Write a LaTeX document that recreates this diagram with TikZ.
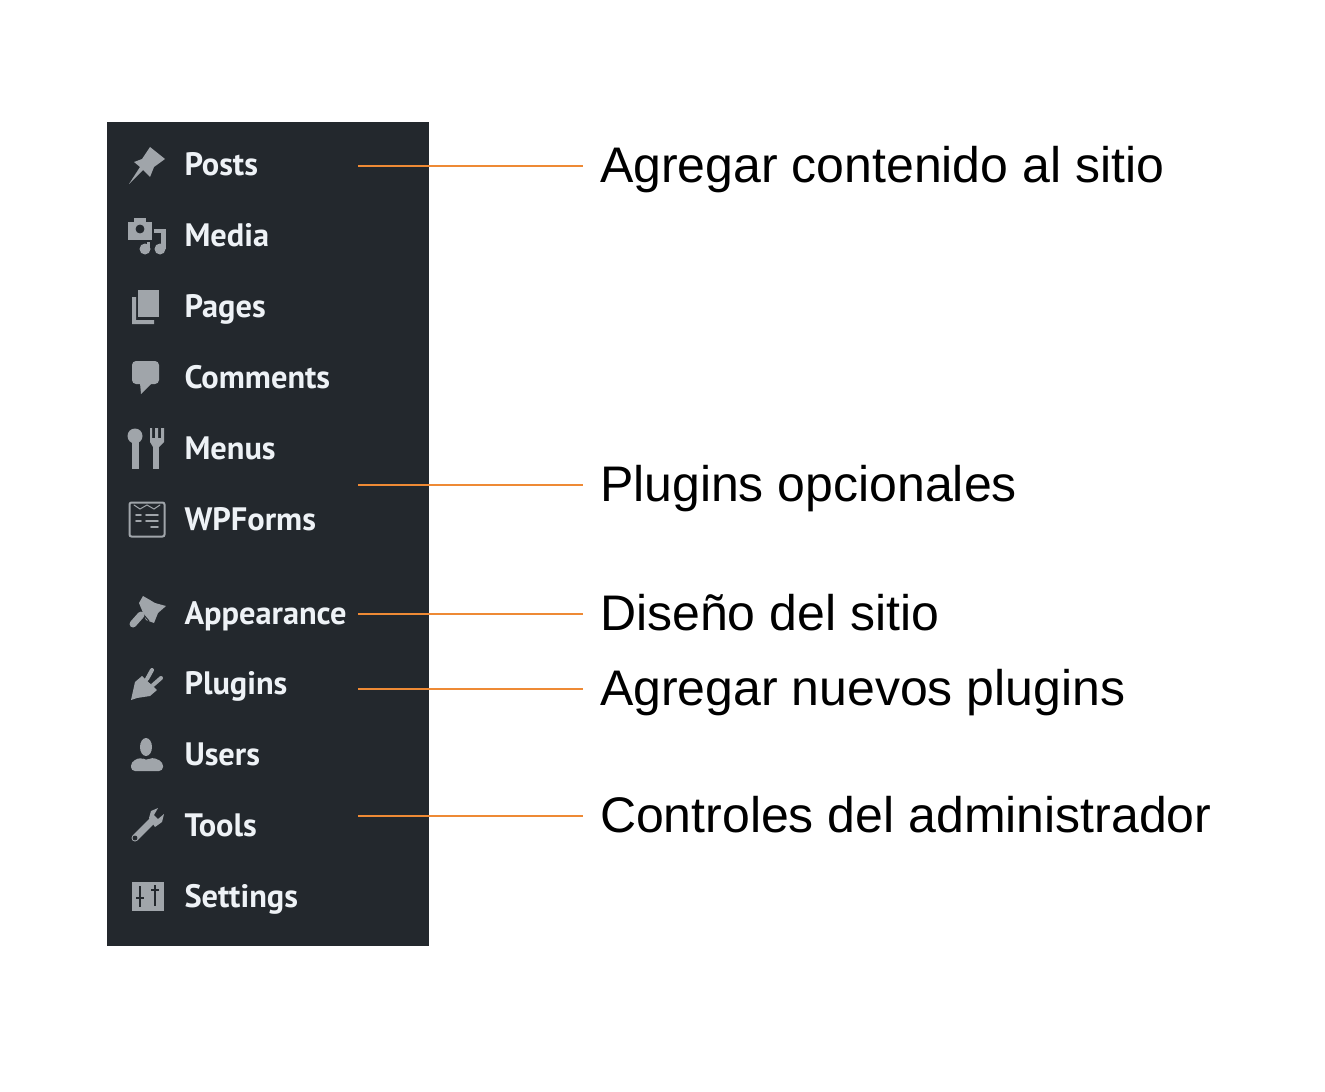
\documentclass[tikz,border=0pt]{standalone}
\usepackage{fontspec}
\setmainfont{Liberation Sans}
\newfontfamily\menufont{PT Sans}
\usetikzlibrary{positioning}
\definecolor{panelbg}{HTML}{23282D}
\definecolor{iconfg}{HTML}{A0A5AA}
\definecolor{menufg}{HTML}{EEF2F6}
\definecolor{leadercol}{HTML}{EE8A35}
\tikzset{
	menuitem/.style={inner sep=0pt,outer sep=0pt,text=menufg,font=\menufont\bfseries\fontsize{16.2pt}{18pt}\selectfont},
	infolabel/.style={inner sep=0pt,outer xsep=8.5pt,anchor=base west,text=black,font=\fontsize{25pt}{28pt}\selectfont},
	leader/.style={draw=leadercol,line width=0.8pt},
	icon/.style={fill=iconfg,draw=none},
	iconline/.style={draw=iconfg,line cap=round},
	iconcut/.style={draw=panelbg,fill=panelbg},
}
\begin{document}
\begin{tikzpicture}[x=0.5pt,y=-0.5pt,node distance=35.4pt]
	\useasboundingbox (0,0) rectangle (1325,1091);
	\fill[panelbg] (107,122) rectangle (429,946);
	% menu
	\node[menuitem,anchor=base west] (posts) at (184.5,176) {Posts};
	\node[menuitem] (media) [below=of posts.base west,anchor=base west] {Media};
	\node[menuitem] (pages) [below=of media.base west,anchor=base west] {Pages};
	\node[menuitem] (comments) [below=of pages.base west,anchor=base west] {Comments};
	\node[menuitem] (menus) [below=of comments.base west,anchor=base west] {Menus};
	\node[menuitem] (wpforms) [below=of menus.base west,anchor=base west] {WPForms};
	\node[menuitem] (appearance) [below=47pt of wpforms.base west,anchor=base west] {Appearance};
	\node[menuitem] (plugins) [below=of appearance.base west,anchor=base west] {Plugins};
	\node[menuitem] (users) [below=of plugins.base west,anchor=base west] {Users};
	\node[menuitem] (tools) [below=of users.base west,anchor=base west] {Tools};
	\node[menuitem] (settings) [below=of tools.base west,anchor=base west] {Settings};
	% icons
	\fill[icon] (129,184) -- (140,167) -- (134,162) -- (142,159) -- (150,147) -- (165,159) -- (154,167) -- (150,177) -- (143,170) -- cycle;
	\fill[icon] (128,222) rectangle (152,240);
	\fill[icon] (134,218) rectangle (146,223);
	\fill[iconcut] (140,229) circle (4);
	\fill[icon] (145,249) circle (5.5);
	\fill[icon] (160,249) circle (5.5);
	\fill[icon] (154,229) rectangle (166,233);
	\fill[icon] (161,229) rectangle (166,249);
	\fill[icon] (147,242) rectangle (150,249);
	\fill[icon] (138,290) rectangle (159,317);
	\fill[icon] (132,297) -- (136,297) -- (136,320) -- (154,320) -- (154,324) -- (132,324) -- cycle;
	\fill[icon,rounded corners=2pt] (132,361) rectangle (159,384);
	\fill[icon] (140,383) -- (141,394) -- (152,383) -- cycle;
	\fill[icon] (135,436) circle (7.5);
	\fill[icon] (132,440) rectangle (139,469);
	\fill[icon] (153,440) rectangle (159,469);
	\fill[icon] (150,428) -- (152,428) -- (152,438) -- (155,438) -- (155,428) -- (158,428) -- (158,438) -- (161,438) -- (161,428) -- (164,428) -- (164,442) -- (159,447) -- (153,447) -- (150,442) -- cycle;
	\draw[iconline,line width=1pt,rounded corners=1pt] (129.5,502.5) rectangle (164.5,536.5);
	\draw[iconline,line width=0.5pt] (134,505) -- (140,509) -- (147,505) -- (154,509) -- (160,505);
	\draw[iconline,line width=0.9pt] (136,515) -- (141,515) (146,515) -- (158,515) (136,521) -- (141,521) (146,521) -- (158,521) (151,527) -- (158,527);
	\fill[icon] (139,603) -- (143,596) -- (150,600) -- (155,603) -- (166,606) -- (158,613) -- (154,623) -- (146,620) -- cycle;
	\draw[panelbg,line width=0.5pt] (137,607) -- (149,621);
	\draw[iconline,line width=3.5pt] (133,624) -- (141,615);
	\fill[icon] (131,700) -- (135,682) -- (142,676) -- (157,690) -- (150,696) -- (137,698) -- cycle;
	\draw[iconline,line width=2pt] (147,679) -- (152,670) (153,685) -- (161,678);
	\fill[icon] (146,747) ellipse (6 and 9);
	\fill[icon,rounded corners=2pt] (131,771) -- (131,762) -- (141,757) -- (146,761) -- (152,757) -- (163,762) -- (163,771) -- cycle;
	\draw[iconline,line width=3.5pt] (135,838) -- (152,821);
	\fill[icon] (149,818) -- (151,811) -- (158,808) -- (154,815) -- (158,819) -- (164,814) -- (162,822) -- (155,827) -- cycle;
	\fill[iconcut] (135,838) circle (2);
	\fill[icon] (132,882) rectangle (164,911);
	\draw[panelbg,line width=1pt] (140,886) -- (140,907) (155,885) -- (155,906) (136,898) -- (144,898) (151,890) -- (159,890);
	% labels
	\node[infolabel] (lcontent) at (583,183) {Agregar contenido al sitio};
	\node[infolabel] (loptional) at (583,501) {Plugins opcionales};
	\node[infolabel] (ldesign) at (583,630) {Diseño del sitio};
	\node[infolabel] (lnew) at (583,705) {Agregar nuevos plugins};
	\node[infolabel] (ladmin) at (583,832) {Controles del administrador};
	% leaders
	\coordinate (scontent) at (358,166);
	\coordinate (soptional) at (358,485);
	\coordinate (sdesign) at (358,614);
	\coordinate (snew) at (358,689);
	\coordinate (sadmin) at (358,816);
	\draw[leader] (scontent) -- (scontent -| lcontent.west);
	\draw[leader] (soptional) -- (soptional -| loptional.west);
	\draw[leader] (sdesign) -- (sdesign -| ldesign.west);
	\draw[leader] (snew) -- (snew -| lnew.west);
	\draw[leader] (sadmin) -- (sadmin -| ladmin.west);
\end{tikzpicture}
\end{document}
